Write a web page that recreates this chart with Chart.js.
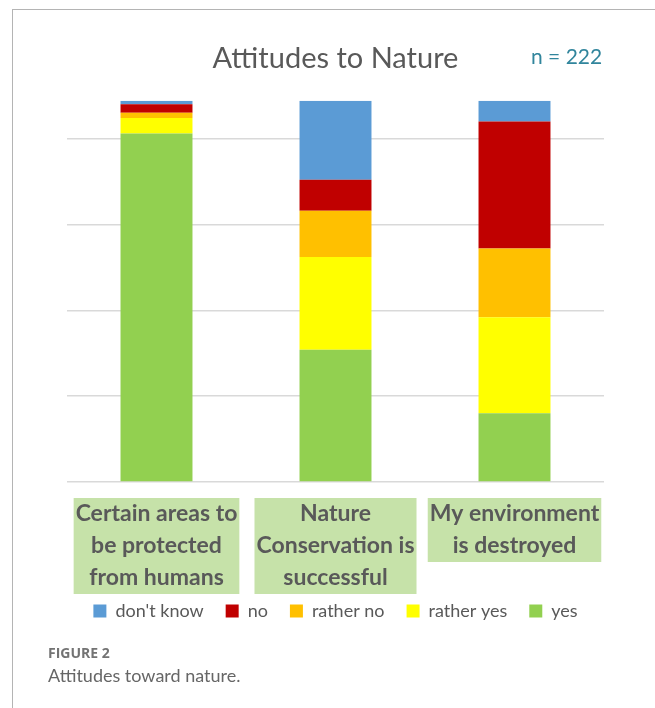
<!DOCTYPE html>
<html>
<head>
<meta charset="utf-8">
<script src="https://cdn.jsdelivr.net/npm/chart.js@4.4.0/dist/chart.umd.min.js"></script>
<style>
    body { margin: 0; background: #ffffff; width: 655px; height: 708px; position: relative; overflow: hidden; font-family: Lato, sans-serif; }
    #frameTop { position: absolute; left: 12px; top: 9px; width: 643px; height: 0; border-top: 1.5px solid #b4b4b4; }
    #frameLeft { position: absolute; left: 12px; top: 9px; width: 0; height: 700px; border-left: 1.5px solid #b4b4b4; }
    #chartBox { position: absolute; left: 0; top: 0; width: 655px; height: 648px; }
    #nLabel { position: absolute; left: 531px; top: 43px; font-size: 21px; color: #31859c; }
    #figNum { position: absolute; left: 48px; top: 643px; font-size: 14px; font-weight: bold; color: #737373; font-family: "Open Sans", sans-serif; }
    #figCaption { position: absolute; left: 48px; top: 664px; font-size: 18px; color: #666666; font-family: Lato, sans-serif; }
</style>
</head>
<body>
<div id="frameTop"></div>
<div id="frameLeft"></div>
<div id="chartBox"><canvas id="barChart" width="655" height="648"></canvas></div>
<div id="nLabel"></div>
<div id="figNum">FIGURE 2</div>
<div id="figCaption">Attitudes toward nature.</div>

<script>
// respondents per statement
var nTotal = 222;

var statements = [
    ['Certain areas to', 'be protected', 'from humans'],
    ['Nature', 'Conservation is', 'successful'],
    ['My environment', 'is destroyed']
];

// answer counts, one value per statement (bottom of the stack first)
var yesCounts = [203, 77, 40];
var ratherYesCounts = [9, 54, 56];
var ratherNoCounts = [3, 27, 40];
var noCounts = [5, 18, 74];
var dontKnowCounts = [2, 46, 12];

var gridSteps = [0, 50, 100, 150, 200];

var lineGap = 32;
var labelFont = { family: 'Lato', size: 23, weight: 'bold', lineHeight: lineGap + 'px' };
var labelPad = 16;

// green boxes behind the statement labels (the built-in backdrop
// repaints over earlier lines of multi-line labels, so draw them here)
var labelBoxes = {
    id: 'labelBoxes',
    beforeDraw: function(chart) {
        var xs = chart.scales.x;
        var c = chart.ctx;
        c.save();
        c.font = 'bold ' + labelFont.size + 'px ' + labelFont.family;
        c.fillStyle = '#c6e2a9';
        statements.forEach(function(lines, i) {
            var w = 0;
            lines.forEach(function(t) { w = Math.max(w, c.measureText(t).width); });
            w += 4;
            var cx = xs.getPixelForTick(i);
            c.fillRect(cx - w / 2, xs.top + labelPad, w, lines.length * lineGap);
        });
        c.restore();
    },
    // pull the legend up closer to the label boxes
    afterLayout: function(chart) {
        chart.legend.top -= 14;
        chart.legend.bottom -= 14;
    }
};

function makeChart() {
    document.getElementById('nLabel').textContent = 'n = ' + nTotal;

    var ctx = document.getElementById('barChart').getContext('2d');
    new Chart(ctx, {
        type: 'bar',
        data: {
            labels: statements,
            datasets: [
                { label: 'yes', data: yesCounts, backgroundColor: '#92d050' },
                { label: 'rather yes', data: ratherYesCounts, backgroundColor: '#ffff00' },
                { label: 'rather no', data: ratherNoCounts, backgroundColor: '#ffc000' },
                { label: 'no', data: noCounts, backgroundColor: '#c00000' },
                { label: "don't know", data: dontKnowCounts, backgroundColor: '#5b9bd5' }
            ]
        },
        plugins: [labelBoxes],
        options: {
            responsive: false,
            animation: false,
            barPercentage: 0.402,
            categoryPercentage: 1,
            layout: {
                padding: { left: 67, right: 51, top: 0, bottom: 4 }
            },
            plugins: {
                tooltip: { enabled: false },
                title: {
                    display: true,
                    text: 'Attitudes to Nature',
                    color: '#595959',
                    font: { family: 'Lato', size: 29, weight: 'normal', lineHeight: 1.2 },
                    padding: { top: 41, bottom: 25 }
                },
                legend: {
                    position: 'bottom',
                    reverse: true,
                    labels: {
                        color: '#595959',
                        font: { family: 'Lato', size: 18 },
                        boxWidth: 13,
                        boxHeight: 13,
                        padding: 22
                    }
                }
            },
            scales: {
                x: {
                    stacked: true,
                    grid: { display: false, drawTicks: false },
                    border: { display: false },
                    ticks: {
                        color: '#595959',
                        font: labelFont,
                        padding: labelPad,
                        maxRotation: 0,
                        autoSkip: false
                    },
                    // padding counts only once, above the labels
                    afterFit: function(scale) {
                        scale.height = labelPad + 3 * lineGap;
                    }
                },
                y: {
                    stacked: true,
                    min: 0,
                    max: nTotal,
                    border: { display: false },
                    ticks: { display: false, stepSize: 50 },
                    grid: {
                        drawTicks: false,
                        lineWidth: 1.5,
                        color: function(c) {
                            return gridSteps.indexOf(c.tick.value) >= 0 ? '#d9d9d9' : 'rgba(0,0,0,0)';
                        }
                    }
                }
            }
        }
    });
}

makeChart();
</script>
</body>
</html>
